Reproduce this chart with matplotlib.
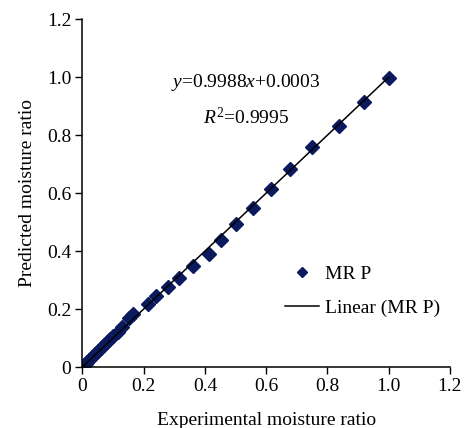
import numpy as np
import matplotlib
matplotlib.use("Agg")
import matplotlib.pyplot as plt

plt.rcParams['font.family'] = ['Liberation Serif', 'DejaVu Serif']
plt.rcParams['mathtext.fontset'] = 'custom'
plt.rcParams['mathtext.rm'] = 'Liberation Serif'
plt.rcParams['mathtext.it'] = 'Liberation Serif:italic'

# experimental vs predicted moisture ratio
mr_exp = [0.0, 0.005, 0.01, 0.015, 0.02, 0.03, 0.04, 0.05, 0.06, 0.07, 0.08,
          0.09, 0.10, 0.117, 0.128, 0.153, 0.166, 0.214, 0.240, 0.278, 0.315,
          0.362, 0.413, 0.452, 0.502, 0.558, 0.615, 0.678, 0.751, 0.839,
          0.921, 1.0]
mr_pred = [0.0, 0.006, 0.012, 0.018, 0.024, 0.034, 0.045, 0.055, 0.065, 0.075, 0.086,
           0.097, 0.107, 0.122, 0.137, 0.168, 0.183, 0.217, 0.245, 0.275, 0.308,
           0.348, 0.391, 0.439, 0.494, 0.548, 0.613, 0.684, 0.758, 0.832,
           0.913, 0.995]
slope = 0.9988
intercept = 0.0003
ticks = [0, 0.2, 0.4, 0.6, 0.8, 1.0, 1.2]
tick_labels = ['0', '0.2', '0.4', '0.6', '0.8', '1.0', '1.2']

fs = 14

fig = plt.figure(figsize=(4.70, 4.28), dpi=100)
ax = fig.add_axes([0.1755, 0.1425, 0.7815, 0.8131])

ax.plot(mr_exp, mr_pred, 'D', color='#0b1a5e', markersize=7,
        linestyle='none', label='MR P', zorder=2)
xl = np.array([0, 1.0])
ax.plot(xl, slope * xl + intercept, color='black', linewidth=1.1,
        label='Linear (MR P)', zorder=3)

ax.set_xlim(0, 1.2)
ax.set_ylim(0, 1.2)
ax.set_xticks(ticks)
ax.set_xticklabels(tick_labels)
ax.set_yticks(ticks)
ax.set_yticklabels(tick_labels)
ax.tick_params(direction='out', length=5, width=1, labelsize=fs, pad=3)
for s in ['top', 'right']:
    ax.spines[s].set_visible(False)
for s in ['left', 'bottom']:
    ax.spines[s].set_linewidth(1.1)

ax.set_xlabel('Experimental moisture ratio', fontsize=fs, labelpad=12)
ax.set_ylabel('Predicted moisture ratio', fontsize=fs, labelpad=8)

ax.text(0.534, 0.98, r'$\mathit{y}$=0.9988$\mathit{x}$+0.0003', fontsize=fs,
        ha='center', va='center')
ax.text(0.534, 0.862, r'$\mathit{R}^{2}$=0.9995', fontsize=fs,
        ha='center', va='center')

ax.legend(loc='upper left', bbox_to_anchor=(0.529, 0.315), frameon=False,
          fontsize=fs, handlelength=1.75, handletextpad=0.35,
          labelspacing=0.85, markerscale=0.7, borderaxespad=0)

fig.savefig('out.png', dpi=100)
